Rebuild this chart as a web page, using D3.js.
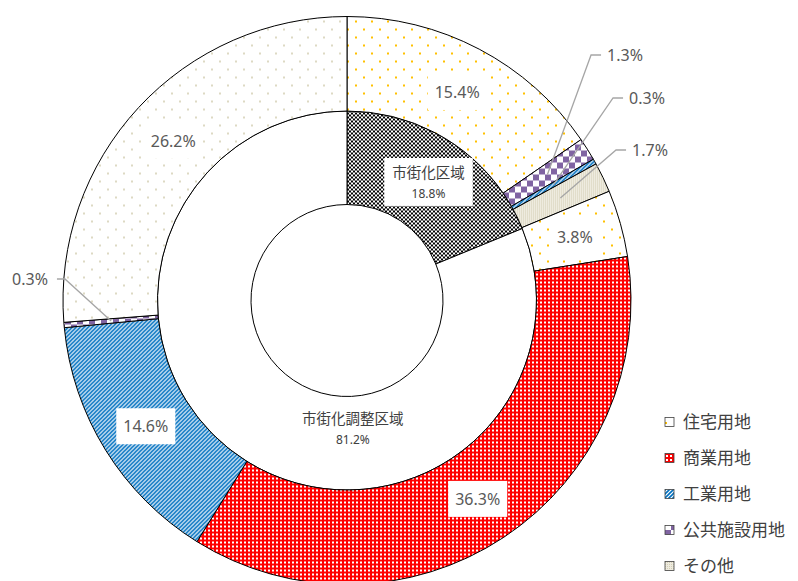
<!DOCTYPE html>
<html lang="ja">
<head>
<meta charset="UTF-8">
<title>市街化区域・市街化調整区域 土地利用</title>
<script src="https://cdn.jsdelivr.net/npm/d3@7/dist/d3.min.js"></script>
<style>
    body { margin: 0; background: #fff; }
    svg { display: block; }
    text { font-family: "Noto Sans", "Noto Sans CJK JP", sans-serif; }
</style>
</head>
<body>
<script>

    // DATA
    const innerNames = ["市街化区域", "市街化調整区域"];
    const innerValues = [18.8, 81.2];

    const outerZones = ["市街化区域", "市街化区域", "市街化区域", "市街化区域",
                        "市街化調整区域", "市街化調整区域", "市街化調整区域", "市街化調整区域", "市街化調整区域"];
    const outerCategories = ["住宅用地", "公共施設用地", "工業用地", "その他",
                             "住宅用地", "商業用地", "工業用地", "公共施設用地", "その他"];
    const outerValues = [15.4, 1.3, 0.3, 1.7, 3.8, 36.3, 14.6, 0.3, 26.2];

    const legendCategories = ["住宅用地", "商業用地", "工業用地", "公共施設用地", "その他"];

    // LAYOUT
    const W = 798, H = 581;
    const cx = 347, cy = 300.5;
    const r0 = 96, r1 = 189.5, r2 = 284;

    // labels moved out of small slices (text centre)
    const callouts = {1: [625, 55], 2: [647, 98], 3: [650, 150], 7: [30, 279]};

    const svg = d3.select("body").append("svg").attr("width", W).attr("height", H);
    const defs = svg.append("defs");

    // PATTERNS
    function pat(id, size, bg) {
        let p = defs.append("pattern").attr("id", id).attr("patternUnits", "userSpaceOnUse")
                    .attr("width", size).attr("height", size);
        p.append("rect").attr("width", size).attr("height", size).attr("fill", bg);
        return p;
    }
    // orange dots (住宅用地)
    let p1 = pat("pDotsOrange", 16, "#fff");
    p1.append("rect").attr("x", 0).attr("y", 0).attr("width", 2).attr("height", 2).attr("fill", "#FFC000");
    p1.append("rect").attr("x", 8).attr("y", 8).attr("width", 2).attr("height", 2).attr("fill", "#FFC000");
    // beige dots (調整区域 その他)
    let p2 = pat("pDotsBeige", 16, "#fff");
    p2.append("rect").attr("x", 0).attr("y", 0).attr("width", 2).attr("height", 2).attr("fill", "#DDD9C3");
    p2.append("rect").attr("x", 8).attr("y", 8).attr("width", 2).attr("height", 2).attr("fill", "#DDD9C3");
    // red with white dots (商業用地)
    let p3 = pat("pRed", 4, "#FF0000");
    p3.append("rect").attr("x", 1).attr("y", 1).attr("width", 2).attr("height", 2).attr("fill", "#fff");
    // blue upward diagonal (工業用地)
    let p4 = pat("pBlue", 4, "#fff");
    p4.append("path").attr("d", "M-1,5 L5,-1").attr("stroke", "#0070C0").attr("stroke-width", 1.6);
    p4.append("path").attr("d", "M-1,1 L1,-1 M3,5 L5,3").attr("stroke", "#0070C0").attr("stroke-width", 1.6);
    // purple checker (公共施設用地)
    let p5 = pat("pPurple", 12, "#fff");
    p5.append("rect").attr("x", 0).attr("y", 0).attr("width", 6).attr("height", 6).attr("fill", "#8064A2");
    p5.append("rect").attr("x", 6).attr("y", 6).attr("width", 6).attr("height", 6).attr("fill", "#8064A2");
    // beige fine grid (その他)
    let p6 = pat("pBeige", 2, "#EEEBDF");
    p6.append("rect").attr("x", 0).attr("y", 0).attr("width", 1).attr("height", 1).attr("fill", "#D4CFB5");
    // black checker (市街化区域)
    let p7 = pat("pBlack", 4, "#fff");
    p7.append("rect").attr("x", 0).attr("y", 0).attr("width", 2).attr("height", 2).attr("fill", "#000");
    p7.append("rect").attr("x", 2).attr("y", 2).attr("width", 2).attr("height", 2).attr("fill", "#000");

    const categoryFill = {
        "住宅用地": "url(#pDotsOrange)",
        "商業用地": "url(#pRed)",
        "工業用地": "url(#pBlue)",
        "公共施設用地": "url(#pPurple)",
        "その他": "url(#pBeige)"
    };
    function outerFill(d) {
        if (d.data.zone === "市街化調整区域" && d.data.category === "その他") return "url(#pDotsBeige)";
        return categoryFill[d.data.category];
    }
    const innerFill = {"市街化区域": "url(#pBlack)", "市街化調整区域": "#fff"};

    // PIE DATA
    const innerData = innerNames.map((n, i) => ({name: n, value: innerValues[i]}));
    const outerData = outerValues.map((v, i) => ({zone: outerZones[i], category: outerCategories[i], value: v}));

    const pie = d3.pie().sort(null).value(d => d.value);
    const innerArc = d3.arc().innerRadius(r0).outerRadius(r1);
    const outerArc = d3.arc().innerRadius(r1).outerRadius(r2);

    const g = svg.append("g").attr("transform", `translate(${cx},${cy})`);

    g.selectAll("path.inner")
        .data(pie(innerData))
        .join("path")
        .attr("class", "inner")
        .attr("d", innerArc)
        .attr("fill", d => innerFill[d.data.name])
        .attr("stroke", "#000")
        .attr("stroke-width", 1);

    const outerArcs = pie(outerData);
    g.selectAll("path.outer")
        .data(outerArcs)
        .join("path")
        .attr("class", "outer")
        .attr("d", outerArc)
        .attr("fill", outerFill)
        .attr("stroke", "#000")
        .attr("stroke-width", 1);

    // LABEL HELPER: text with white box
    function boxedLabel(parent, x, y, lines, padX, padY) {
        let lg = parent.append("g");
        let rect = lg.append("rect").attr("fill", "#fff");
        let t = lg.append("text").attr("text-anchor", "middle").attr("fill", "#595959");
        lines.forEach((ln, i) => {
            t.append("tspan").attr("x", x).attr("y", y + ln.dy)
             .style("font-size", ln.size + "px").text(ln.text);
        });
        let bb = t.node().getBBox();
        rect.attr("x", bb.x - padX).attr("y", bb.y - padY)
            .attr("width", bb.width + 2 * padX).attr("height", bb.height + 2 * padY);
        return t;
    }

    const fmt = v => v.toFixed(1) + "%";

    // OUTER LABELS
    const labelLayer = svg.append("g");
    const leaderLayer = svg.append("g");
    outerArcs.forEach((d, i) => {
        let c = outerArc.centroid(d);
        let px = cx + c[0], py = cy + c[1];
        if (callouts[i]) {
            let [tx, ty] = callouts[i];
            let t = labelLayer.append("text").attr("x", tx).attr("y", ty + 6)
                .attr("text-anchor", "middle").attr("fill", "#595959")
                .style("font-size", "16px").text(fmt(d.data.value));
            let bb = t.node().getBBox();
            let pts;
            if (tx > cx) {
                pts = [[px, py], [bb.x - 16, ty], [bb.x - 6, ty]];
            } else {
                pts = [[px, py], [bb.x + bb.width + 17, ty], [bb.x + bb.width + 9, ty]];
            }
            leaderLayer.append("path").attr("d", d3.line()(pts))
                .attr("fill", "none").attr("stroke", "#A6A6A6").attr("stroke-width", 1.3);
        } else {
            boxedLabel(labelLayer, px, py + 7, [{text: fmt(d.data.value), size: 16, dy: 0}], 7, 7);
        }
    });

    // INNER LABELS
    const innerArcs = pie(innerData);
    {
        let c = innerArc.centroid(innerArcs[0]);
        boxedLabel(labelLayer, cx + c[0] + 2, cy + c[1] - 4,
            [{text: innerArcs[0].data.name, size: 14.5, dy: 0}, {text: fmt(innerArcs[0].data.value), size: 12, dy: 20}], 8, 4)
            .attr("fill", "#404040");
        // 市街化調整区域 label sits just below the hole
        let a = Math.PI * 0.985, rr = 124;
        boxedLabel(labelLayer, cx + rr * Math.sin(a), cy - rr * Math.cos(a),
            [{text: innerArcs[1].data.name, size: 14.5, dy: 0}, {text: fmt(innerArcs[1].data.value), size: 12, dy: 20}], 8, 4)
            .attr("fill", "#404040");
    }

    // LEGEND
    const legend = svg.append("g").attr("transform", "translate(665,422)");
    const legendStep = 36;
    legendCategories.forEach((cat, i) => {
        let row = legend.append("g").attr("transform", `translate(0,${i * legendStep})`);
        row.append("rect").attr("x", 0).attr("y", -4.5).attr("width", 9).attr("height", 9)
            .attr("fill", categoryFill[cat]).attr("stroke", "#404040").attr("stroke-width", 0.8);
        row.append("text").attr("x", 18).attr("y", 6)
            .attr("fill", "#404040").style("font-size", "17px").text(cat);
    });

</script>
</body>
</html>
